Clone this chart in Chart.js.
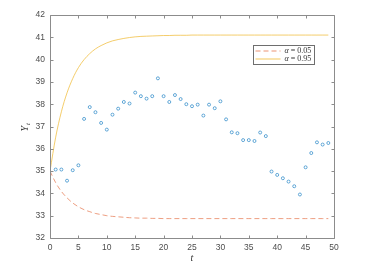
<!DOCTYPE html>
<html>
<head>
<meta charset="utf-8">
<script src="https://cdn.jsdelivr.net/npm/chart.js@4"></script>
<style>
  html, body { margin: 0; padding: 0; background: #fff; }
  #wrap { width: 373px; height: 273px; }
</style>
</head>
<body>
<div id="wrap"><canvas id="chart" width="373" height="273"></canvas></div>
<script>
// observed series Y_t, t = 1..49
const tObs = [1, 2, 3, 4, 5, 6, 7, 8, 9, 10, 11, 12, 13, 14, 15, 16, 17, 18, 19, 20,
  21, 22, 23, 24, 25, 26, 27, 28, 29, 30, 31, 32, 33, 34, 35, 36, 37, 38, 39, 40,
  41, 42, 43, 44, 45, 46, 47, 48, 49];
const yObs = [35.07, 35.07, 34.57, 35.04, 35.26, 37.34, 37.87, 37.64, 37.16, 36.86,
  37.53, 37.80, 38.10, 38.03, 38.52, 38.36, 38.25, 38.36, 39.16, 38.36,
  38.10, 38.41, 38.23, 38.00, 37.91, 37.98, 37.49, 37.98, 37.82, 38.13,
  37.32, 36.74, 36.70, 36.39, 36.39, 36.35, 36.73, 36.57, 34.98, 34.83,
  34.68, 34.53, 34.32, 33.95, 35.17, 35.81, 36.29, 36.19, 36.26];

// curves, t = 0..49
const tCurve = [0, 1, 2, 3, 4, 5, 6, 7, 8, 9, 10, 11, 12, 13, 14, 15, 16, 17, 18, 19,
  20, 21, 22, 23, 24, 25, 26, 27, 28, 29, 30, 31, 32, 33, 34, 35, 36, 37, 38, 39,
  40, 41, 42, 43, 44, 45, 46, 47, 48, 49];
const yAlpha05 = [35.00, 34.48, 34.09, 33.80, 33.57, 33.40, 33.27, 33.18, 33.10, 33.05,
  33.00, 32.97, 32.95, 32.93, 32.91, 32.90, 32.89, 32.89, 32.88, 32.88,
  32.87, 32.87, 32.87, 32.87, 32.87, 32.87, 32.87, 32.87, 32.87, 32.87,
  32.87, 32.87, 32.87, 32.87, 32.87, 32.87, 32.87, 32.87, 32.87, 32.87,
  32.87, 32.87, 32.87, 32.87, 32.87, 32.87, 32.87, 32.87, 32.87, 32.87];
const yAlpha95 = [35.00, 36.52, 37.66, 38.51, 39.15, 39.64, 40.00, 40.27, 40.48, 40.63,
  40.75, 40.84, 40.90, 40.95, 40.99, 41.02, 41.04, 41.05, 41.06, 41.07,
  41.08, 41.08, 41.09, 41.09, 41.09, 41.10, 41.10, 41.10, 41.10, 41.10,
  41.10, 41.10, 41.10, 41.10, 41.10, 41.10, 41.10, 41.10, 41.10, 41.10,
  41.10, 41.10, 41.10, 41.10, 41.10, 41.10, 41.10, 41.10, 41.10, 41.10];

const xTicks = [0, 5, 10, 15, 20, 25, 30, 35, 40, 45, 50];
const yTicks = [32, 33, 34, 35, 36, 37, 38, 39, 40, 41, 42];
const legendLabels = ['0.05', '0.95'];

const BLUE = 'rgba(0,114,189,0.75)';
const ORANGE = 'rgba(230,120,80,0.8)';
const YELLOW = 'rgba(240,185,50,0.8)';
const AXIS = '#8c8c8c';
const TXT = '#4d4d4d';

function pts(xs, ys) {
  return xs.map((x, i) => ({ x: x, y: ys[i] }));
}

// matlab style box, inward ticks, axis titles and legend
const matlabBox = {
  id: 'matlabBox',
  afterDraw(chart) {
    const ctx = chart.ctx;
    const a = chart.chartArea;
    const xs = chart.scales.x, ys = chart.scales.y;
    const L = Math.round(a.left) + 0.5, R = Math.round(a.right) + 0.5;
    const T = Math.round(a.top) + 0.5, B = Math.round(a.bottom) + 0.5;
    ctx.save();
    ctx.strokeStyle = AXIS;
    ctx.lineWidth = 1;
    ctx.beginPath();
    ctx.rect(L, T, R - L, B - T);
    xTicks.forEach(v => {
      const px = Math.round(xs.getPixelForValue(v)) + 0.5;
      ctx.moveTo(px, B); ctx.lineTo(px, B - 3);
      ctx.moveTo(px, T); ctx.lineTo(px, T + 3);
    });
    yTicks.forEach(v => {
      const py = Math.round(ys.getPixelForValue(v)) + 0.5;
      ctx.moveTo(L, py); ctx.lineTo(L + 3, py);
      ctx.moveTo(R, py); ctx.lineTo(R - 3, py);
    });
    ctx.stroke();

    // axis titles
    ctx.fillStyle = '#333';
    ctx.textAlign = 'center';
    ctx.textBaseline = 'middle';
    ctx.font = 'italic 10px "Liberation Serif", "DejaVu Serif", serif';
    ctx.fillText('t', (a.left + a.right) / 2, 258);
    ctx.save();
    ctx.translate(25.5, (a.top + a.bottom) / 2);
    ctx.rotate(-Math.PI / 2);
    ctx.textAlign = 'left';
    ctx.fillText('Y', -5, 0);
    ctx.font = 'italic 7px "Liberation Serif", "DejaVu Serif", serif';
    ctx.fillText('t', 1.5, 3);
    ctx.restore();

    // legend
    const bx = 253.5, by = 45.5, bw = 61, bh = 19;
    ctx.fillStyle = '#fff';
    ctx.fillRect(bx, by, bw, bh);
    ctx.strokeStyle = '#6e6e6e';
    ctx.strokeRect(bx, by, bw, bh);
    const rows = [by + 5.5, by + 13.5];
    ctx.lineWidth = 1;
    ctx.strokeStyle = ORANGE;
    ctx.setLineDash([5, 3]);
    ctx.beginPath(); ctx.moveTo(bx + 2, rows[0]); ctx.lineTo(bx + 27, rows[0]); ctx.stroke();
    ctx.setLineDash([]);
    ctx.strokeStyle = YELLOW;
    ctx.beginPath(); ctx.moveTo(bx + 2, rows[1]); ctx.lineTo(bx + 27, rows[1]); ctx.stroke();
    ctx.fillStyle = '#333';
    ctx.textAlign = 'left';
    legendLabels.forEach((lab, i) => {
      let x = bx + 31;
      ctx.font = 'italic 8px "Liberation Serif", "DejaVu Serif", serif';
      ctx.fillText('\u03b1', x, rows[i]);
      x += ctx.measureText('\u03b1').width + 2;
      ctx.font = '8px "Liberation Serif", "DejaVu Serif", serif';
      ctx.fillText('= ' + lab, x, rows[i]);
    });
    ctx.restore();
  }
};

const tickFont = { family: '"Liberation Sans", Arial, sans-serif', size: 8.5 };

new Chart(document.getElementById('chart').getContext('2d'), {
  type: 'scatter',
  data: {
    datasets: [
      {
        label: 'alpha = 0.05',
        data: pts(tCurve, yAlpha05),
        showLine: true,
        borderColor: ORANGE,
        borderWidth: 0.9,
        borderDash: [5, 3],
        pointRadius: 0,
        cubicInterpolationMode: 'monotone'
      },
      {
        label: 'alpha = 0.95',
        data: pts(tCurve, yAlpha95),
        showLine: true,
        borderColor: YELLOW,
        borderWidth: 0.9,
        pointRadius: 0,
        cubicInterpolationMode: 'monotone'
      },
      {
        label: 'Y_t',
        data: pts(tObs, yObs),
        showLine: false,
        borderColor: BLUE,
        backgroundColor: 'rgba(0,0,0,0)',
        borderWidth: 0.8,
        pointRadius: 1.5
      }
    ]
  },
  options: {
    responsive: false,
    animation: false,
    layout: { padding: { left: 0, right: 39, top: 15, bottom: 0 } },
    plugins: { legend: { display: false }, tooltip: { enabled: false } },
    scales: {
      x: {
        type: 'linear',
        min: 0, max: 50,
        afterFit(scale) { scale.height = 35; },
        afterBuildTicks(scale) { scale.ticks = xTicks.map(v => ({ value: v })); },
        grid: { display: false, drawTicks: false },
        border: { display: false },
        ticks: { color: TXT, font: tickFont, padding: 5, maxRotation: 0 }
      },
      y: {
        type: 'linear',
        min: 32, max: 42,
        afterFit(scale) { scale.width = 50; },
        afterBuildTicks(scale) { scale.ticks = yTicks.map(v => ({ value: v })); },
        grid: { display: false, drawTicks: false },
        border: { display: false },
        ticks: { color: TXT, font: tickFont, padding: 5 }
      }
    }
  },
  plugins: [matlabBox]
});
</script>
</body>
</html>
